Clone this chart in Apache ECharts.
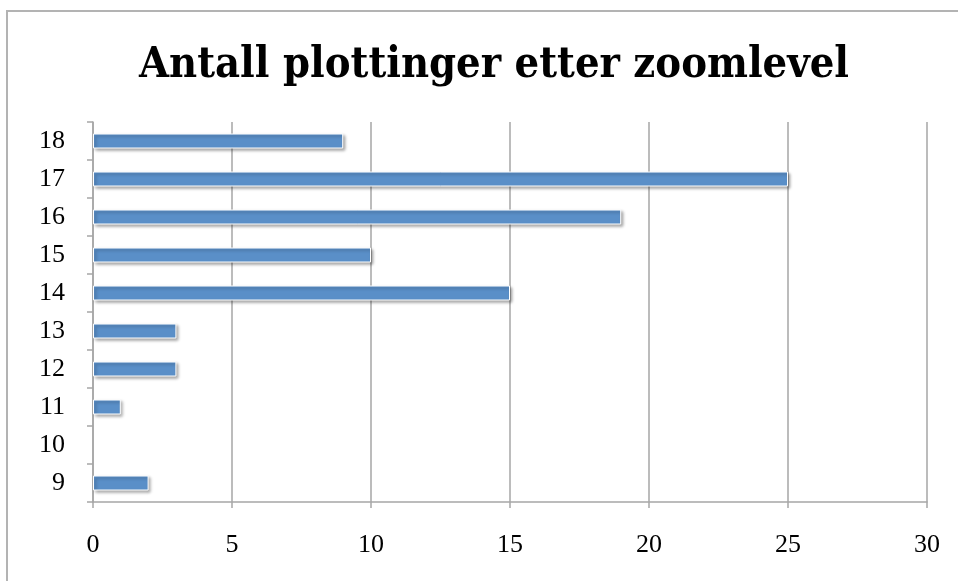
<!DOCTYPE html>
<html>
<head>
<meta charset="utf-8">
<script src="https://cdn.jsdelivr.net/npm/echarts@6/dist/echarts.min.js"></script>
<style>html,body{margin:0;padding:0;background:#fff}#c{width:958px;height:581px}</style>
</head>
<body>
<div id="c"></div>
<script>
const titleText = "Antall plottinger etter zoomlevel";
const categories = ["9", "10", "11", "12", "13", "14", "15", "16", "17", "18"];
const values = [2, 0, 1, 3, 3, 15, 10, 19, 25, 9];
const xMin = 0, xMax = 30, xStep = 5;

const chart = echarts.init(document.getElementById('c'), null, {renderer: 'canvas'});
const axisGray = '#a6a6a6';
const barData = values.map(v => v === 0
  ? {value: v, itemStyle: {borderWidth: 0, shadowBlur: 0, shadowColor: 'transparent'}}
  : v);
chart.setOption({
  animation: false,
  backgroundColor: '#fff',
  title: {
    text: titleText,
    left: 489,
    textAlign: 'center',
    top: 39,
    textStyle: {fontFamily: '"DejaVu Serif Condensed", "DejaVu Serif", serif', fontWeight: 'bold', fontSize: 43, color: '#000'}
  },
  graphic: [{
    type: 'rect', shape: {x: 7, y: 11, width: 1200, height: 1200},
    style: {fill: 'none', stroke: '#b3b3b3', lineWidth: 2}, silent: true
  }],
  grid: {left: 93, right: 31, top: 122, bottom: 79, containLabel: false},
  xAxis: {
    type: 'value', min: xMin, max: xMax, interval: xStep,
    axisLine: {show: true, lineStyle: {color: axisGray, width: 1.5}},
    axisTick: {show: true, length: 6, lineStyle: {color: axisGray, width: 1.5}},
    splitLine: {show: true, lineStyle: {color: axisGray, width: 1.5}},
    axisLabel: {margin: 30, fontFamily: 'Liberation Serif', fontSize: 26, color: '#000'}
  },
  yAxis: {
    type: 'category', data: categories,
    axisLine: {show: true, lineStyle: {color: axisGray, width: 1.5}},
    axisTick: {show: true, length: 6, lineStyle: {color: axisGray, width: 1.5}},
    axisLabel: {margin: 28, fontFamily: 'Liberation Serif', fontSize: 26, color: '#000'}
  },
  series: [{
    type: 'bar', data: barData, barWidth: 15,
    itemStyle: {
      color: '#5a8fc8', borderColor: '#ffffff', borderWidth: 1,
      shadowColor: 'rgba(0,0,0,0.35)', shadowBlur: 3, shadowOffsetX: 2, shadowOffsetY: 2
    }
  }]
});
</script>
</body>
</html>
